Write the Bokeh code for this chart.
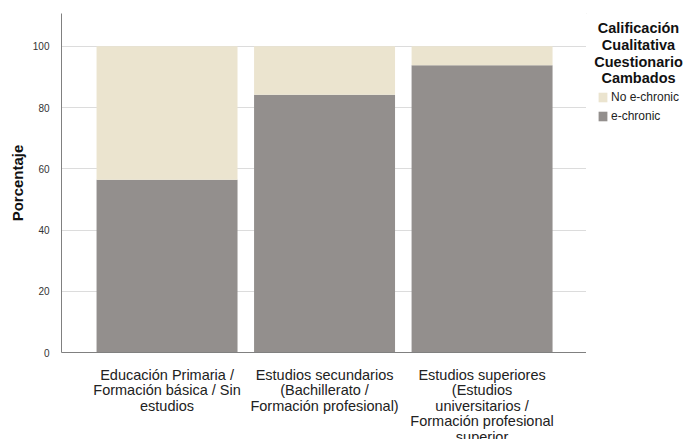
from bokeh.plotting import figure
from bokeh.layouts import row
from bokeh.models import Range1d, Legend, LegendItem, FixedTicker, ColumnDataSource
from bokeh.core.properties import value
from bokeh.embed import file_html
from bokeh.resources import INLINE

categories = [
    "Educación Primaria /\nFormación básica / Sin\nestudios",
    "Estudios secundarios\n(Bachillerato /\nFormación profesional)",
    "Estudios superiores\n(Estudios\nuniversitarios /\nFormación profesional\nsuperior",
]
e_chronic = [56.4, 84.2, 93.8]
no_e_chronic = [100 - v for v in e_chronic]
series_names = ["No e-chronic", "e-chronic"]
legend_title = ["Calificación", "Cualitativa", "Cuestionario", "Cambados"]
y_ticks = [0, 20, 40, 60, 80, 100]

x = list(range(1, len(categories) + 1))
src = ColumnDataSource(dict(x=x, e=e_chronic, n=no_e_chronic,
                            total=[a + b for a, b in zip(e_chronic, no_e_chronic)]))

FONT = "Liberation Sans"
GRAY = "#938f8d"
BEIGE = "#ebe4cf"

p = figure(width=586, height=439, output_backend="svg", toolbar_location=None,
           x_range=Range1d(0.33, 3.663), y_range=Range1d(0, 110.7),
           frame_width=525, frame_height=339,
           min_border_left=61, min_border_top=13, min_border_bottom=87, min_border_right=0)
p.outline_line_color = None
p.background_fill_color = "white"
p.border_fill_color = "white"

r_e = p.vbar(x="x", top="e", bottom=0, width=0.895, source=src,
             fill_color=GRAY, line_color=None)
r_n = p.vbar(x="x", top="total", bottom="e", width=0.895, source=src,
             fill_color=BEIGE, line_color=None)

# axes
p.xaxis.ticker = FixedTicker(ticks=x)
p.xaxis.major_label_overrides = {i: c for i, c in zip(x, categories)}
p.xaxis.major_tick_line_color = None
p.xaxis.minor_tick_line_color = None
p.xaxis.axis_line_color = "#808080"
p.xaxis.major_label_standoff = 8
p.xaxis.major_label_text_font = FONT
p.xaxis.major_label_text_font_size = "14.5px"
p.xaxis.major_label_text_line_height = 0.97
p.xaxis.major_label_text_color = "#222222"

p.yaxis.ticker = FixedTicker(ticks=y_ticks)
p.yaxis.major_tick_line_color = None
p.yaxis.minor_tick_line_color = None
p.yaxis.axis_line_color = "#808080"
p.yaxis.major_label_standoff = 6
p.yaxis.major_label_text_font = FONT
p.yaxis.major_label_text_font_size = "10px"
p.yaxis.major_label_text_color = "#333333"
p.yaxis.axis_label = "Porcentaje"
p.yaxis.axis_label_text_font = FONT
p.yaxis.axis_label_text_font_style = "bold"
p.yaxis.axis_label_text_font_size = "15px"
p.yaxis.axis_label_text_color = "#111111"
p.yaxis.axis_label_standoff = 4

p.xgrid.grid_line_color = None
p.ygrid.grid_line_color = "#dcdcdc"
p.ygrid.ticker = FixedTicker(ticks=y_ticks[1:])

# legend panel as a second figure, frame aligned with the main one (pixel coordinates)
lg = figure(width=99, height=439, output_backend="svg", toolbar_location=None,
            x_range=Range1d(586, 685), y_range=Range1d(352, 13),
            frame_width=99, frame_height=339,
            min_border_left=0, min_border_right=0, min_border_top=13, min_border_bottom=87)
lg.axis.visible = False
lg.grid.visible = False
lg.outline_line_color = None
lg.border_fill_color = "white"
lg.background_fill_color = "white"

title_y = [27, 44, 61, 77]
lg.text(x=[638] * len(legend_title), y=title_y, text=legend_title,
        text_align="center", text_baseline="middle",
        text_font=value(FONT), text_font_style="bold", text_font_size="14.5px",
        text_color="#111111")

# zero-size proxies (outside the visible range) only to carry the legend swatches
d_n = lg.vbar(x=[0], top=[0], bottom=[0], width=1, fill_color=BEIGE, line_color=None)
d_e = lg.vbar(x=[0], top=[0], bottom=[0], width=1, fill_color=GRAY, line_color=None)
legend = Legend(items=[LegendItem(label=series_names[0], renderers=[d_n]),
                       LegendItem(label=series_names[1], renderers=[d_e])],
                location=(11, 229), padding=0, margin=0, spacing=5,
                glyph_width=11, glyph_height=12, label_height=12, label_standoff=3,
                label_text_font=FONT, label_text_font_size="12px",
                label_text_color="#222222",
                border_line_color=None, background_fill_alpha=0)
lg.add_layout(legend, "center")

layout = row(p, lg, spacing=0)
open("out.html", "w").write(file_html(layout, INLINE))
